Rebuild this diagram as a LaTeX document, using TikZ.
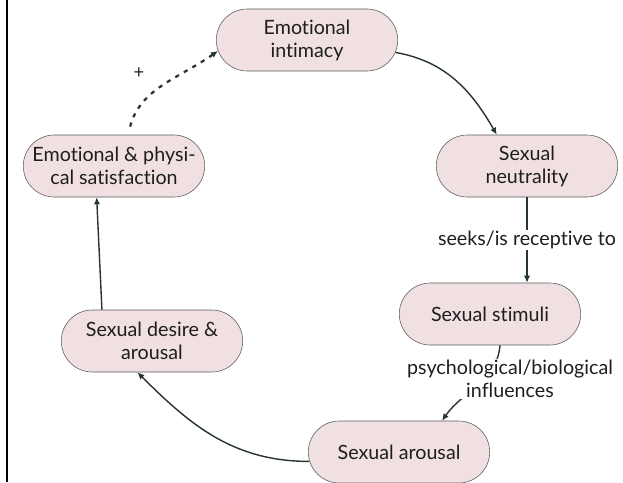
\documentclass[tikz,border=0pt]{standalone}
\usepackage{fontspec}
\setmainfont{Lato}[Ligatures={NoCommon,NoContextual}]
\usetikzlibrary{shapes.misc,arrows.meta}
\definecolor{boxfill}{RGB}{240,224,226}
\definecolor{boxline}{RGB}{90,90,90}
\definecolor{linkcol}{RGB}{38,52,52}
\definecolor{textcol}{RGB}{30,30,30}

\begin{document}
\begin{tikzpicture}[x=0.025cm, y=-0.025cm,
    stage/.style={rounded rectangle, draw=boxline, line width=0.4pt, fill=boxfill,
      minimum width=4.675cm, minimum height=1.55cm, align=center, inner sep=2pt,
      text=textcol, font=\fontsize{14}{16.4}\selectfont},
    link/.style={draw=linkcol, line width=1pt, -{Latex[length=5pt,width=4.5pt]}},
    lbl/.style={fill=white, inner sep=1pt, align=center, text=textcol,
      font=\fontsize{14}{16.4}\selectfont}]
    \useasboundingbox (0,0) rectangle (623,482);
    \draw[line width=1pt] (7,0) -- (7,482);

    \node[stage] (EI) at (307,40) {Emotional\\intimacy};
    \node[stage] (SN) at (527,166) {Sexual\\neutrality};
    \node[stage] (EPS) at (114,166) {Emotional \& physi-\\cal satisfaction};
    \node[stage] (SS) at (490,314) {Sexual stimuli};
    \node[stage] (SDA) at (152,341) {Sexual desire \&\\arousal};
    \node[stage] (SA) at (399,452) {Sexual arousal};

    \draw[link] (EI.-8) to[out=-10, in=120] (SN.134);
    \draw[link] (SN.south) -- (SN.south |- SS.north)
        node[lbl, midway] (seek) {seeks/is receptive to};
    \draw[link] ([xshift=0.25cm]SS.south) to[out=-95, in=55] ([xshift=1.075cm]SA.north);
    \node[lbl] (infl) at (510,379) {psychological/biological\\influences};
    \draw[link] (SA.186) to[out=180, in=-45] (SDA.245);
    \draw[link] (SDA.148) -- (EPS.241);
    \draw[link, dashed, line width=1.6pt, dash pattern=on 3pt off 4pt,
        shorten <=6pt] (EPS.66) to[out=75, in=215] (EI.187);
    \node[text=textcol, font=\fontsize{13}{15}\selectfont] (plus) at (139,73) {+};
\end{tikzpicture}
\end{document}
